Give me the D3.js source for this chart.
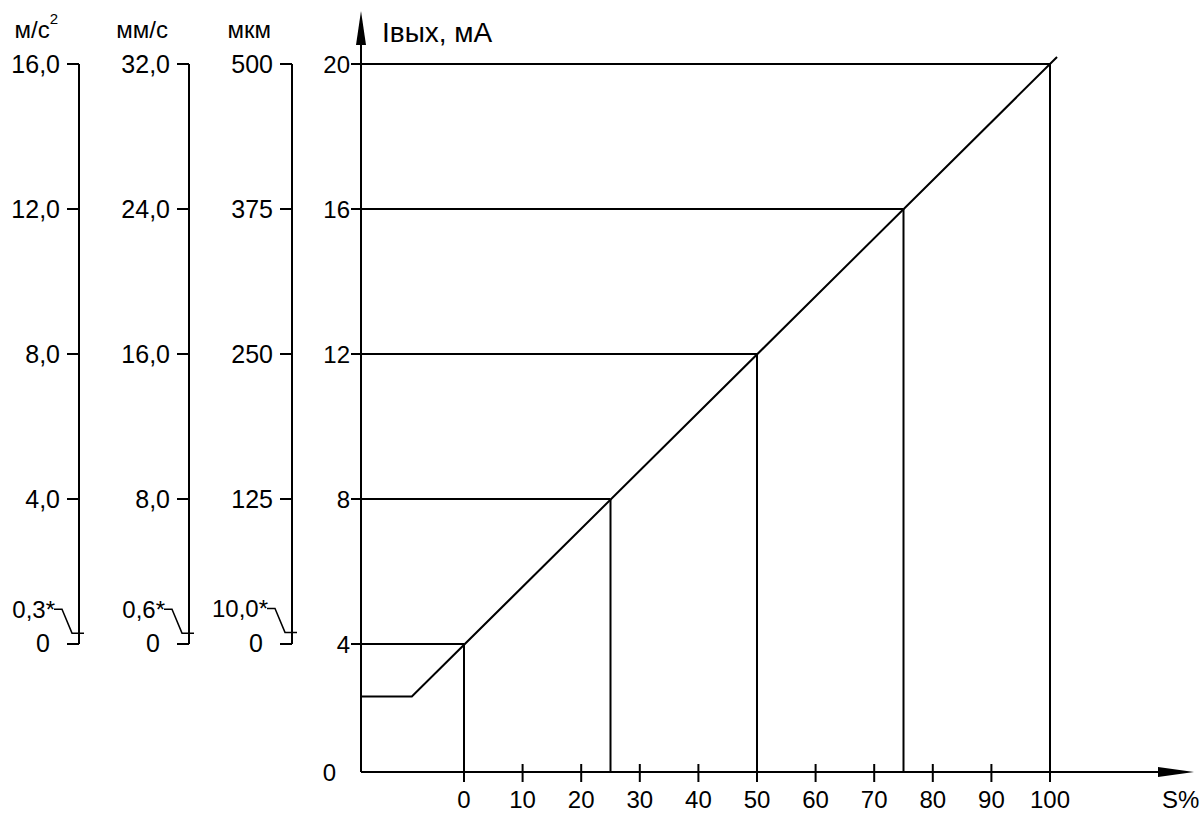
<!DOCTYPE html>
<html>
<head>
<meta charset="utf-8">
<script src="https://cdn.jsdelivr.net/npm/d3@7"></script>
<style>
  body { margin: 0; background: #fff; }
  text { font-family: "Liberation Sans", Arial, sans-serif; fill: #000; }
</style>
</head>
<body>
<script>
// Output current vs. signal level

var sPercent = [0, 25, 50, 75, 100];
var iOut = [4, 8, 12, 16, 20];
var sTicks = [0, 10, 20, 30, 40, 50, 60, 70, 80, 90, 100];
var iTicks = [4, 8, 12, 16, 20];

// lower flat part of the curve and where the line stops
var iFloor = 2.55;
var sBreak = -8.9;
var sEnd = 101.2;

// left unit scales
var unitNames = ["м/с", "мм/с", "мкм"];
var unitMax = [16, 32, 500];
var unitTickValues = [
    [4, 8, 12, 16],
    [8, 16, 24, 32],
    [125, 250, 375, 500]
];
var unitTickLabels = [
    ["4,0", "8,0", "12,0", "16,0"],
    ["8,0", "16,0", "24,0", "32,0"],
    ["125", "250", "375", "500"]
];
var unitThreshold = [0.3, 0.6, 10.0];
var unitThresholdLabels = ["0,3*", "0,6*", "10,0*"];

var W = 1202, H = 813;
var svg = d3.select("body").append("svg")
    .attr("width", W)
    .attr("height", H);

var x = d3.scaleLinear().domain([0, 100]).range([464, 1050]);
var y = d3.scaleLinear().domain([4, 20]).range([644, 64]);
var axisX = 361, axisY = 772;

var lw = 2;

function line(x1, y1, x2, y2) {
    svg.append("line")
        .attr("x1", x1).attr("y1", y1)
        .attr("x2", x2).attr("y2", y2)
        .attr("stroke", "#000")
        .attr("stroke-width", lw);
}

// main axes
line(axisX, axisY, axisX, 20);
line(axisX, axisY, 1170, axisY);
svg.append("polygon")
    .attr("points", [[axisX, 11], [axisX - 5, 45], [axisX + 5, 45]].join(" "))
    .attr("fill", "#000");
svg.append("polygon")
    .attr("points", [[1194, axisY], [1158, axisY - 5], [1158, axisY + 5]].join(" "))
    .attr("fill", "#000");

svg.append("text")
    .attr("x", 382).attr("y", 42)
    .attr("font-size", 28)
    .text("Iвых, мА");

svg.append("text")
    .attr("x", 1162).attr("y", 808)
    .attr("font-size", 24)
    .text("S%");

// x ticks
sTicks.forEach(function (d) {
    line(x(d), axisY - 8, x(d), axisY + 10);
    svg.append("text")
        .attr("x", x(d)).attr("y", 808)
        .attr("text-anchor", "middle")
        .attr("font-size", 24)
        .text(d);
});

// y ticks
iTicks.forEach(function (d) {
    line(axisX - 10, y(d), axisX, y(d));
    svg.append("text")
        .attr("x", axisX - 11).attr("y", y(d))
        .attr("dy", "0.36em")
        .attr("text-anchor", "end")
        .attr("font-size", 24)
        .text(d);
});
svg.append("text")
    .attr("x", 336).attr("y", axisY)
    .attr("dy", "0.36em")
    .attr("text-anchor", "end")
    .attr("font-size", 24)
    .text("0");

// guide lines
sPercent.forEach(function (s, i) {
    line(axisX, y(iOut[i]), x(s), y(iOut[i]));
    line(x(s), y(iOut[i]), x(s), axisY);
});

// transfer curve
var curve = [
    [axisX, y(iFloor)],
    [x(sBreak), y(iFloor)],
    [x(sEnd), y(4 + sEnd * 0.16)]
];
svg.append("path")
    .attr("d", d3.line()(curve))
    .attr("fill", "none")
    .attr("stroke", "#000")
    .attr("stroke-width", lw);

// left unit scales
var unitX = [79, 189, 292];

unitNames.forEach(function (name, k) {
    var ax = unitX[k];
    var s = d3.scaleLinear().domain([0, unitMax[k]]).range([644, 64]);

    line(ax, s(0), ax, s(unitMax[k]));

    var u = svg.append("text")
        .attr("x", ax - 21).attr("y", 38)
        .attr("text-anchor", "end")
        .attr("font-size", 24)
        .text(name);
    if (k == 0) {
        u.append("tspan")
            .attr("dy", -14)
            .attr("font-size", 15)
            .text("2");
    }

    unitTickValues[k].forEach(function (v, j) {
        line(ax - 12, s(v), ax, s(v));
        svg.append("text")
            .attr("x", ax - 19).attr("y", s(v))
            .attr("dy", "0.36em")
            .attr("text-anchor", "end")
            .attr("font-size", 25)
            .text(unitTickLabels[k][j]);
    });

    // zero
    line(ax - 12, s(0), ax, s(0));
    svg.append("text")
        .attr("x", ax - 29).attr("y", s(0))
        .attr("dy", "0.3em")
        .attr("text-anchor", "end")
        .attr("font-size", 25)
        .text("0");

    // threshold with leader
    var yt = s(unitThreshold[k]);
    svg.append("path")
        .attr("d", d3.line()([
            [ax - 25, yt - 24], [ax - 17, yt - 24], [ax - 7, yt], [ax + 5, yt]
        ]))
        .attr("fill", "none")
        .attr("stroke", "#000")
        .attr("stroke-width", 1.5);
    svg.append("text")
        .attr("x", ax - 24).attr("y", yt - 15)
        .attr("text-anchor", "end")
        .attr("font-size", 24)
        .text(unitThresholdLabels[k]);
});
</script>
</body>
</html>
